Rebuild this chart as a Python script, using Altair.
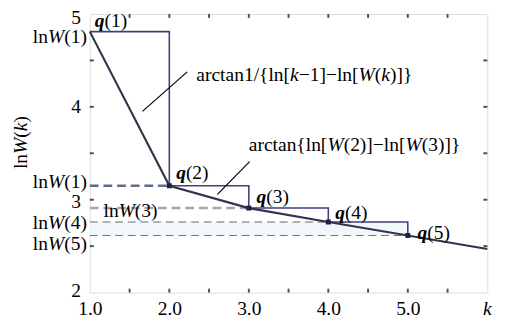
import altair as alt
import pandas as pd

# ---------------- data ----------------
k = [1, 2, 3, 4, 5, 6]
lnW = [4.81, 3.15, 2.91, 2.76, 2.615, 2.47]
x_tick_vals = [1.5, 2.0, 2.5, 3.0, 3.5, 4.0, 4.5, 5.0, 5.5]
y_tick_vals = [2.5, 3.0, 3.5, 4.0, 4.5]
x_label_vals = [1, 2, 3, 4, 5]
y_label_vals = [2, 3, 4, 5]
x_end_label = "k"
q_suffix = ["(1)", "(2)", "(3)", "(4)", "(5)"]
left_label_suffix = ["(1)", "(1)", "(4)", "(5)"]
left_label_level = [0, 1, 3, 4]
inner_label_suffix = "(3)"
inner_label_level = 2
annot_text_x = [2.34, 3.0]
annot_text_y = [4.346, 3.588]
leader_x = [2.225, 3.01]
leader_y = [4.377, 3.411]
leader_x2 = [1.662, 2.605]
leader_y2 = [3.951, 3.058]

# ---------------- styling ----------------
FONT = "Times New Roman, Liberation Serif, Times, serif"
FS = 20
PW, PH = 408, 286
xs = alt.Scale(domain=[1, 6], nice=False, zero=False)
ys = alt.Scale(domain=[2, 5], nice=False, zero=False)

X_AXIS = alt.Axis(
    values=x_label_vals, format=".1f", title=None, ticks=False, domain=False, grid=False,
    labelFont=FONT, labelFontSize=FS, labelColor="black", labelPadding=6,
    labelFlush=False, labelOverlap=False, labelBound=False)
Y_AXIS = alt.Axis(values=y_label_vals, title=None, ticks=False, domain=False, grid=False,
                  labels=False)

REG = {'a': .444, 'r': .333, 'c': .444, 't': .278, 'n': .5, 'l': .278, '/': .278,
       '{': .48, '}': .48, '[': .333, ']': .333, '(': .333, ')': .333, '\u2212': .564,
       ' ': .25, '.': .25}
ITA = {'W': .833, 'k': .444, 'q': .5}


def width(s, st):
    tot = 0.0
    for ch in s:
        if 'i' in st and ch in ITA:
            tot += ITA[ch]
        elif ch.isdigit():
            tot += .5
        else:
            tot += REG.get(ch, .5)
    return tot * FS


def X(f="x"):
    return alt.X(f + ":Q", scale=xs, axis=X_AXIS)


def Y(f="y"):
    return alt.Y(f + ":Q", scale=ys, axis=Y_AXIS)


def pieces_layers(pieces, xv, yv, dx0=0.0, dy=0.0, right=False):
    total = sum(width(t, st) for t, st in pieces)
    off = dx0 - total if right else dx0
    out = []
    for t, st in pieces:
        df = pd.DataFrame({"x": [xv], "y": [yv], "t": [t]})
        out.append(
            alt.Chart(df).mark_text(
                align="left", baseline="middle", dx=off, dy=dy, font=FONT, fontSize=FS,
                fontStyle="italic" if "i" in st else "normal",
                fontWeight="bold" if "b" in st else "normal", color="black"
            ).encode(x=X(), y=Y(), text="t:N")
        )
        off += width(t, st)
    return out


layers = []

# light band between lnW(5) and lnW(4)
band = pd.DataFrame({"x": [k[0]], "x2": [k[4]], "y": [lnW[4]], "y2": [lnW[3]]})
layers.append(alt.Chart(band).mark_rect(color="#f0f8fc").encode(
    x=X(), x2="x2:Q", y=Y(), y2="y2:Q"))

# dashed level lines
dash_styles = [
    (1, "#5a6e8c", 2.6, [9, 5]),
    (2, "#a6a6ae", 2.6, [9, 5]),
    (3, "#666666", 1.0, [8, 5]),
    (4, "#4a7a9a", 1.0, [8, 5]),
]
for idx, col, sw, dash in dash_styles:
    df = pd.DataFrame({"x": [k[0]], "x2": [k[idx]], "y": [lnW[idx]]})
    layers.append(alt.Chart(df).mark_rule(color=col, strokeWidth=sw, strokeDash=dash).encode(
        x=X(), x2="x2:Q", y=Y()))

# step line
step_df = pd.DataFrame({"x": k[:5], "y": lnW[:5]})
layers.append(alt.Chart(step_df).mark_line(interpolate="step-after", color="#404078",
                                           strokeWidth=1.6).encode(x=X(), y=Y()))

# main polyline
main_df = pd.DataFrame({"x": k, "y": lnW})
layers.append(alt.Chart(main_df).mark_line(color="#33334d", strokeWidth=2.2).encode(
    x=X(), y=Y()))

# markers
mk_df = pd.DataFrame({"x": k[1:5], "y": lnW[1:5]})
layers.append(alt.Chart(mk_df).mark_square(size=26, color="#202045", opacity=1).encode(
    x=X(), y=Y()))

# leader lines
ld = pd.DataFrame({"x": leader_x, "y": leader_y, "x2": leader_x2, "y2": leader_y2})
layers.append(alt.Chart(ld).mark_rule(color="black", strokeWidth=1.2).encode(
    x=X(), y=Y(), x2="x2:Q", y2="y2:Q"))

# inward ticks on all four sides
xt = pd.DataFrame({"x": x_tick_vals})
yt = pd.DataFrame({"y": y_tick_vals})
TC = "#4d4d4d"
layers.append(alt.Chart(xt).mark_rule(color=TC, strokeWidth=2).encode(
    x=X(), y=alt.value(PH), y2=alt.value(PH - 4)))
layers.append(alt.Chart(xt).mark_rule(color=TC, strokeWidth=2).encode(
    x=X(), y=alt.value(0), y2=alt.value(4)))
layers.append(alt.Chart(yt).mark_rule(color=TC, strokeWidth=2).encode(
    y=Y(), x=alt.value(0), x2=alt.value(4)))
layers.append(alt.Chart(yt).mark_rule(color=TC, strokeWidth=2).encode(
    y=Y(), x=alt.value(PW), x2=alt.value(PW - 4)))

# y tick labels 2, 3, 4, 5
y_label_style = [("middle", -1), ("middle", 2), ("middle", 0), ("top", -6)]
for v, (bl, dy) in zip(y_label_vals, y_label_style):
    df = pd.DataFrame({"x": [k[0]], "y": [v], "t": [str(v)]})
    layers.append(alt.Chart(df).mark_text(align="right", baseline=bl, dx=-9, dy=dy,
                                          font=FONT, fontSize=FS, color="black").encode(
        x=X(), y=Y(), text="t:N"))

# "k" at the end of the x axis
kdf = pd.DataFrame({"x": [k[-1]], "t": [x_end_label]})
layers.append(alt.Chart(kdf).mark_text(align="center", baseline="middle", font=FONT,
                                       fontSize=FS, fontStyle="italic", color="black").encode(
    x=X(), y=alt.value(PH + 17), text="t:N"))

# q(n) labels
q_offsets = [(5, -11), (7, -13), (8, -11), (7, -9), (10, -2)]
for i, suf in enumerate(q_suffix):
    dx0, dy = q_offsets[i]
    layers += pieces_layers([("q", "bi"), (suf, "n")], k[i], lnW[i], dx0, dy)

# lnW(n) labels left of the axis
left_dy = [6, -4, 1, 9]
for suf, lev, dy in zip(left_label_suffix, left_label_level, left_dy):
    layers += pieces_layers([("ln", "n"), ("W", "i"), (suf, "n")], k[0], lnW[lev], -3, dy,
                            right=True)

# lnW(3) inside the plot
layers += pieces_layers([("ln", "n"), ("W", "i"), (inner_label_suffix, "n")], k[0],
                        lnW[inner_label_level], 14, 3)

# arctan annotations
a1 = [("arctan1/{ln[", "n"), ("k", "i"), ("\u22121]\u2212ln[", "n"), ("W", "i"), ("(", "n"),
      ("k", "i"), (")]}", "n")]
a2 = [("arctan{ln[", "n"), ("W", "i"), ("(2)]\u2212ln[", "n"), ("W", "i"), ("(3)]}", "n")]
layers += pieces_layers(a1, annot_text_x[0], annot_text_y[0])
layers += pieces_layers(a2, annot_text_x[1], annot_text_y[1])

# rotated y-axis title lnW(k)
title_pieces = [("ln", "n"), ("W", "i"), ("(", "n"), ("k", "i"), (")", "n")]
total = sum(width(t, st) for t, st in title_pieces)
start = 132 + total / 2
off = 0.0
for t, st in title_pieces:
    df = pd.DataFrame({"t": [t]})
    layers.append(alt.Chart(df).mark_text(
        align="left", baseline="middle", angle=270, font=FONT, fontSize=FS,
        fontStyle="italic" if "i" in st else "normal", color="black"
    ).encode(x=alt.value(-70), y=alt.value(start - off), text="t:N"))
    off += width(t, st)

chart = alt.layer(*layers).properties(
    width=PW, height=PH,
    autosize=alt.AutoSizeParams(type="none"),
    padding={"left": 84, "top": 2, "right": 12, "bottom": 24},
).configure_view(stroke="#4d4d4d", strokeWidth=2).configure(background="white")

chart.save("out.html", embed_options={"renderer": "svg", "actions": False})
